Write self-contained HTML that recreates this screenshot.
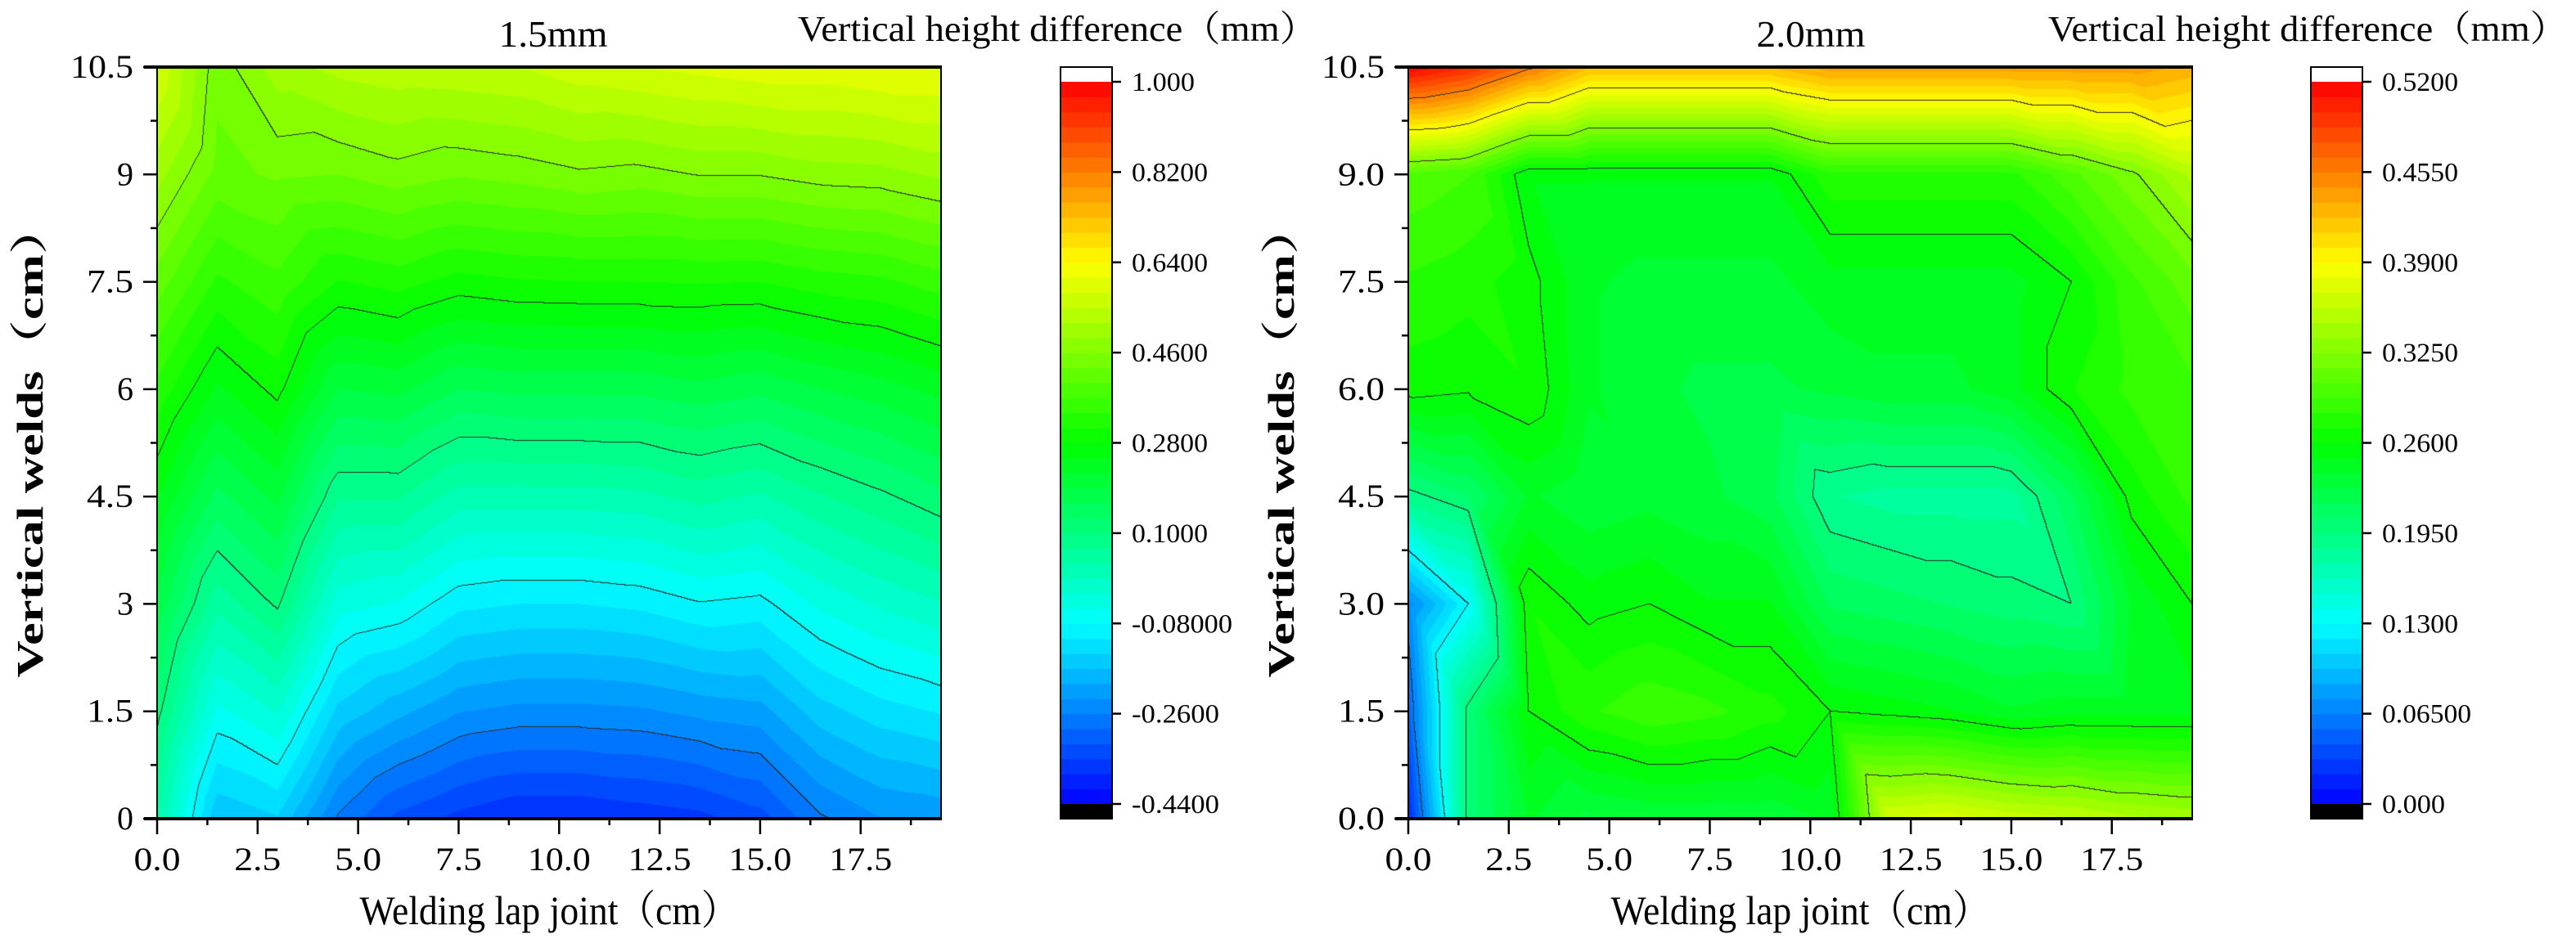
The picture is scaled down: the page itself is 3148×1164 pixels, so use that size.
<!DOCTYPE html>
<html><head><meta charset="utf-8">
<style>
html,body{margin:0;padding:0;background:#fff;}
#wrap{position:relative;width:3148px;height:1164px;overflow:hidden;background:#fff;}
canvas{position:absolute;}
svg{position:absolute;left:0;top:0;}
text{font-family:"Liberation Serif","Noto Serif CJK SC",serif;fill:#000;}
</style></head>
<body>
<div id="wrap">
<canvas id="cvL" width="958" height="919" style="left:192px;top:82px;"></canvas>
<canvas id="cvR" width="958" height="919" style="left:1721px;top:82px;"></canvas>
<svg id="svg" width="3148" height="1164" xmlns="http://www.w3.org/2000/svg"></svg>
</div>
<script>
// ---- data ----
const xCategories = [0,1.5,3,4.5,6,7.5,9,10.5,12,13.5,15,16.5,18,19.5];
const yCategories = [0,1.5,3,4.5,6,7.5,9,10.5];
// values per x column, rows bottom (y=0) to top (y=10.5)
const leftValues = [
 [0.043,0.113,0.182,0.252,0.331,0.417,0.503,0.58],
 [-0.166,-0.058,0.05,0.151,0.245,0.334,0.42,0.44],
 [-0.143,-0.017,0.106,0.199,0.29,0.362,0.435,0.507],
 [-0.265,-0.148,-0.036,0.074,0.19,0.308,0.43,0.53],
 [-0.329,-0.191,-0.054,0.074,0.198,0.322,0.447,0.54],
 [-0.36,-0.228,-0.101,0.027,0.16,0.298,0.433,0.544],
 [-0.38,-0.239,-0.11,0.027,0.168,0.307,0.442,0.55],
 [-0.38,-0.239,-0.11,0.027,0.168,0.309,0.455,0.57],
 [-0.37,-0.235,-0.102,0.031,0.168,0.31,0.449,0.58],
 [-0.36,-0.221,-0.082,0.051,0.18,0.312,0.462,0.59],
 [-0.333,-0.212,-0.09,0.035,0.168,0.31,0.462,0.60],
 [-0.265,-0.153,-0.043,0.067,0.19,0.325,0.475,0.60],
 [-0.231,-0.123,-0.015,0.093,0.207,0.333,0.479,0.61],
 [-0.222,-0.107,0.008,0.122,0.23,0.355,0.496,0.61]
];
const rightValues = [
 [0.02,0.05,0.07,0.19,0.265,0.28,0.30,0.52],
 [0.2,0.2,0.13,0.205,0.262,0.275,0.293,0.50],
 [0.24,0.26,0.27,0.24,0.27,0.265,0.25,0.46],
 [0.225,0.28,0.255,0.23,0.24,0.24,0.25,0.424],
 [0.23,0.29,0.26,0.235,0.23,0.235,0.25,0.424],
 [0.23,0.285,0.25,0.23,0.225,0.235,0.25,0.424],
 [0.23,0.275,0.25,0.22,0.225,0.235,0.25,0.424],
 [0.24,0.26,0.215,0.185,0.23,0.245,0.279,0.44],
 [0.37,0.255,0.21,0.18,0.235,0.245,0.279,0.44],
 [0.375,0.25,0.205,0.18,0.235,0.245,0.279,0.44],
 [0.365,0.24,0.2,0.18,0.245,0.245,0.279,0.44],
 [0.36,0.245,0.195,0.215,0.27,0.26,0.30,0.44],
 [0.35,0.245,0.24,0.265,0.285,0.29,0.322,0.44],
 [0.345,0.245,0.26,0.285,0.29,0.31,0.35,0.43]
];
const leftColorTicks = [-0.44,-0.26,-0.08,0.10,0.28,0.46,0.64,0.82,1.00];
const leftColorLabels = ["-0.4400","-0.2600","-0.08000","0.1000","0.2800","0.4600","0.6400","0.8200","1.000"];
const rightColorTicks = [0,0.065,0.13,0.195,0.26,0.325,0.39,0.455,0.52];
const rightColorLabels = ["0.000","0.06500","0.1300","0.1950","0.2600","0.3250","0.3900","0.4550","0.5200"];
const xTickValues = [0,2.5,5,7.5,10,12.5,15,17.5];
const xTickLabels = ["0.0","2.5","5.0","7.5","10.0","12.5","15.0","17.5"];
const yTickValues = [0,1.5,3,4.5,6,7.5,9,10.5];
const leftYLabels = ["0","1.5","3","4.5","6","7.5","9","10.5"];
const rightYLabels = ["0.0","1.5","3.0","4.5","6.0","7.5","9.0","10.5"];

// ---- layout ----
const NS="http://www.w3.org/2000/svg";
const svg=document.getElementById('svg');
const XMAX=19.5, YMAX=10.5, NBANDS=48;
const PW=958, PH=919, PT=82;
function cmap(t){
  t=Math.max(0,Math.min(1,t));
  const s=[[0,0,255],[0,255,255],[0,255,0],[255,255,0],[255,0,0]];
  const f=t*4, i=Math.min(3,Math.floor(f)), r=f-i;
  return s[i].map((c,k)=>Math.round(c+(s[i+1][k]-c)*r));
}
function interp(vals,x,y){
  let i=0; while(i<xCategories.length-2 && x>xCategories[i+1]) i++;
  let j=0; while(j<yCategories.length-2 && y>yCategories[j+1]) j++;
  const u=(x-xCategories[i])/(xCategories[i+1]-xCategories[i]);
  const v=(y-yCategories[j])/(yCategories[j+1]-yCategories[j]);
  const z00=vals[i][j],z10=vals[i+1][j],z01=vals[i][j+1],z11=vals[i+1][j+1];
  if(u+v<=1) return z00+u*(z10-z00)+v*(z01-z00);
  return z11+(1-u)*(z01-z11)+(1-v)*(z10-z11);
}
function drawContour(id,vals,vmin,vmax,major){
  const cv=document.getElementById(id), ctx=cv.getContext('2d');
  const img=ctx.createImageData(PW,PH), d=img.data;
  const step=(vmax-vmin)/NBANDS;
  const Z=new Float32Array(PW*PH);
  for(let py=0;py<PH;py++){const y=YMAX-(py+0.5)/PH*YMAX;
    for(let px=0;px<PW;px++){Z[py*PW+px]=interp(vals,(px+0.5)/PW*XMAX,y);}}
  const K=(z)=>Math.floor((z-vmin)/major+1e-9);
  for(let py=0;py<PH;py++)for(let px=0;px<PW;px++){
    const k=py*PW+px, z=Z[k];
    let b=Math.floor((z-vmin)/step); b=Math.max(0,Math.min(NBANDS-1,b));
    let c=cmap((b+0.5)/NBANDS);
    const kk=K(z);
    if((px<PW-1&&K(Z[k+1])!==kk)||(py<PH-1&&K(Z[k+PW])!==kk)) c=[45,45,45];
    d[k*4]=c[0];d[k*4+1]=c[1];d[k*4+2]=c[2];d[k*4+3]=255;
  }
  ctx.putImageData(img,0,0);
}
drawContour('cvL',leftValues,-0.44,1.0,0.18);
drawContour('cvR',rightValues,0,0.52,0.065);

function el(tag,attrs,parent){const e=document.createElementNS(NS,tag);for(const k in attrs)e.setAttribute(k,attrs[k]);(parent||svg).appendChild(e);return e;}
function txt(s,attrs,name){const e=el('text',attrs);e.textContent=s;return e;}
function labW(s,dg,dt,mn){let w=0;for(const ch of s){w+= ch==='.'?dt:(ch==='-'?mn:dg);}return w;}

function drawAxes(prefix,x0,yLabels,title,titleX,cbX,cTicks,cLabels,vmin,vmax,cbTitleX){
  const xs=v=>x0+v/XMAX*PW, ys=v=>PT+PH-v/YMAX*PH;
  const g=el('g',{});
  
  
  const fr=el('rect',{x:x0,y:PT,width:PW,height:PH,fill:'none',stroke:'#000','stroke-width':2},g);
  
  
  el('line',{x1:x0-16,x2:x0+PW+1,y1:PT,y2:PT,stroke:'#000','stroke-width':4},g);
  el('line',{x1:x0-16,x2:x0+PW+1,y1:PT+PH,y2:PT+PH,stroke:'#000','stroke-width':4},g);
  for(let v=0;v<=XMAX+1e-6;v+=1.25){
    const maj=Math.abs(v/2.5-Math.round(v/2.5))<1e-6;
    const t=el('line',{x1:xs(v),x2:xs(v),y1:PT+PH,y2:PT+PH+(maj?19:8),stroke:'#000','stroke-width':2.5},g);
    
    
  }
  xTickValues.forEach((v,i)=>{const s=xTickLabels[i];
    txt(s,{x:xs(v),y:1064,'font-size':40,'text-anchor':'middle',textLength:labW(s,20,17,14),lengthAdjust:'spacingAndGlyphs'},prefix+'-x-tick-label');});
  for(let v=0;v<=YMAX+1e-6;v+=0.75){
    const maj=Math.abs(v/1.5-Math.round(v/1.5))<1e-6;
    const t=el('line',{x1:x0-(maj?17:8),x2:x0,y1:ys(v),y2:ys(v),stroke:'#000','stroke-width':2.5},g);
    
    
  }
  yTickValues.forEach((v,i)=>{const s=yLabels[i];
    txt(s,{x:x0-29,y:ys(v)+13,'font-size':40,'text-anchor':'end',textLength:labW(s,20,17,14),lengthAdjust:'spacingAndGlyphs'},prefix+'-y-tick-label');});
  txt('Welding lap joint（cm）',{x:x0+PW/2,y:1130,'font-size':50,'text-anchor':'middle',textLength:463,lengthAdjust:'spacingAndGlyphs'},prefix+'-x-axis-title');
  txt('Vertical welds（cm）',{x:0,y:0,'font-size':46,'font-weight':'bold','text-anchor':'middle',textLength:580,lengthAdjust:'spacingAndGlyphs',transform:`translate(${x0-140},${PT+PH/2-3}) rotate(-90)`},prefix+'-y-axis-title');
  txt(title,{x:titleX,y:57,'font-size':46,'text-anchor':'middle',textLength:133,lengthAdjust:'spacingAndGlyphs'},prefix+'-chart-title');
  const cbW=63, cTop=100, cBot=983;
  const cy=v=>cBot-(v-vmin)/(vmax-vmin)*(cBot-cTop);
  const cb=el('g',{});
  
  
  el('rect',{x:cbX,y:PT,width:cbW,height:cTop-PT,fill:'#fff'},cb);
  const step=(vmax-vmin)/NBANDS;
  for(let b=0;b<NBANDS;b++){
    const c=cmap((b+0.5)/NBANDS);
    const r=el('rect',{x:cbX,y:cy(vmin+(b+1)*step),width:cbW,height:cy(vmin+b*step)-cy(vmin+(b+1)*step)+0.6,fill:`rgb(${c[0]},${c[1]},${c[2]})`},cb);
    
    
  }
  el('rect',{x:cbX,y:cBot,width:cbW,height:PT+PH-cBot,fill:'#000'},cb);
  el('rect',{x:cbX,y:PT,width:cbW,height:PH,fill:'none',stroke:'#000','stroke-width':2},cb);
  cTicks.forEach((v,i)=>{
    const t=el('line',{x1:cbX+cbW,x2:cbX+cbW+11,y1:cy(v),y2:cy(v),stroke:'#000','stroke-width':2.5},cb);
    
    
    const s=cLabels[i];
    txt(s,{x:cbX+cbW+24,y:cy(v)+11,'font-size':33,textLength:labW(s,16,13,14),lengthAdjust:'spacingAndGlyphs'},prefix+'-colorbar-label');
  });
  txt('Vertical height difference（mm）',{x:cbTitleX,y:50,'font-size':44,textLength:635,lengthAdjust:'spacingAndGlyphs'},prefix+'-colorbar-title');
}
drawAxes('left',192,leftYLabels,'1.5mm',676,1296,leftColorTicks,leftColorLabels,-0.44,1.0,975);
drawAxes('right',1721,rightYLabels,'2.0mm',2213,2824,rightColorTicks,rightColorLabels,0,0.52,2503);
</script>
</body></html>
